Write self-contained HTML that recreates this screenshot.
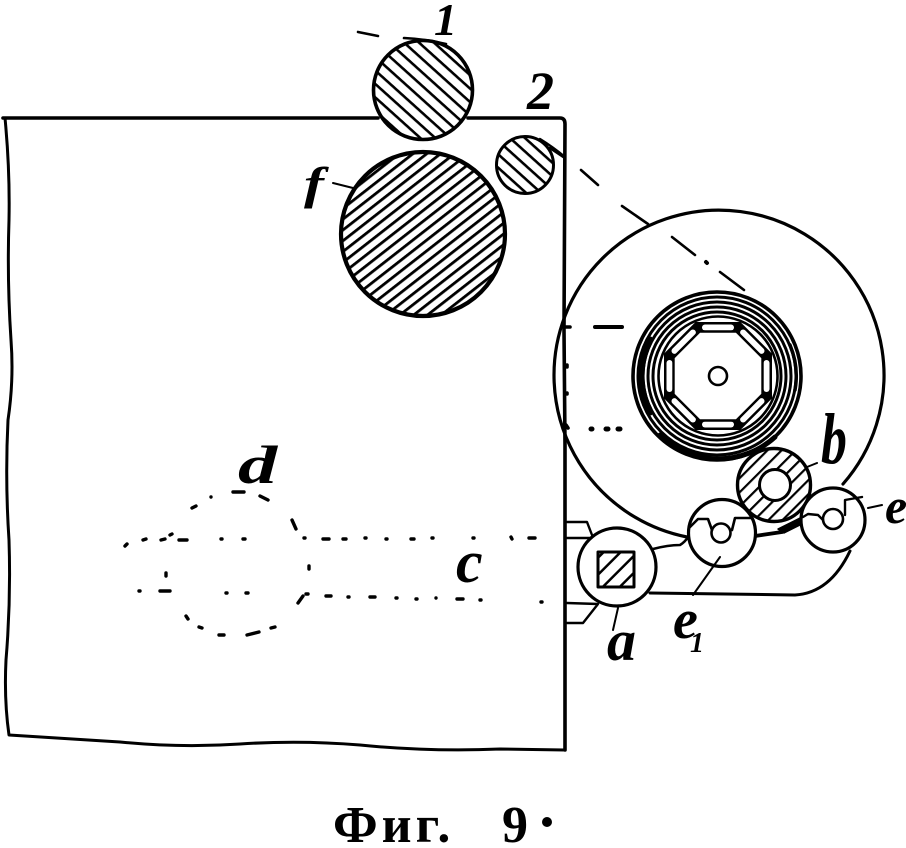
<!DOCTYPE html>
<html><head><meta charset="utf-8"><style>
html,body{margin:0;padding:0;background:#fff;width:906px;height:848px;overflow:hidden}
svg{display:block}
.l{font-family:"Liberation Serif",serif;font-style:italic;font-weight:bold;fill:#000}
</style></head><body>
<svg width="906" height="848" viewBox="0 0 906 848" xmlns="http://www.w3.org/2000/svg">
<defs>
<pattern id="h1" width="10" height="10" patternUnits="userSpaceOnUse" patternTransform="rotate(42)"><rect width="10" height="2.6" fill="#000"/></pattern>
<pattern id="hf" width="8.5" height="8.5" patternUnits="userSpaceOnUse" patternTransform="rotate(-38)"><rect width="8.5" height="2.8" fill="#000"/></pattern>
<pattern id="hb" width="10" height="10" patternUnits="userSpaceOnUse" patternTransform="rotate(-45)"><rect width="10" height="2.2" fill="#000"/></pattern>
<pattern id="ha" width="12" height="12" patternUnits="userSpaceOnUse" patternTransform="rotate(-45)"><rect width="12" height="2.5" fill="#000"/></pattern>
</defs>
<rect width="906" height="848" fill="#fff"/>
<g fill="none" stroke="#000" stroke-linecap="round" stroke-linejoin="round">
<!-- frame -->
<path d="M3 118 L378 118 M468 118 L560 118 Q565 118 565 124 L564 330 L565 445 L565 750" stroke-width="3.6"/>
<path d="M5 118 Q10 170 9 220 Q7 280 11 340 Q14 380 8 420 Q5 480 9 540 Q11 600 6 660 Q4 700 9 735 Q60 738 120 742 Q180 748 240 744 Q300 740 360 745 Q430 752 500 749 L565 750" stroke-width="3"/>
<!-- large reel -->
<path d="M843 484 A165 165 0 1 0 687 537" stroke-width="3.2"/>
<!-- housing -->
<path d="M653 549 Q668 545 680 545 Q685 542 688 537" stroke-width="2.6"/>
<path d="M650 593 L795 595 Q830 593 850 551" stroke-width="3"/>
<path d="M755 536 L782 532 L802 522" stroke-width="3.8"/>
<path d="M778 529 L800 518 L802 524 L784 533 Z" stroke-width="1.5" fill="#000"/>
<path d="M567 522 L587 522 L592 535 M567 538 L592 538 M567 603 L598 604 M567 623 L583 623 L598 604" stroke-width="2.4"/>
<!-- rollers 1, f, 2 -->
<circle cx="423" cy="90" r="49.5" fill="#fff" stroke="none"/>
<circle cx="423" cy="90" r="49.5" fill="url(#h1)" stroke-width="3.6"/>
<circle cx="423" cy="234" r="82" fill="#fff" stroke="none"/>
<circle cx="423" cy="234" r="82" fill="url(#hf)" stroke-width="4.2"/>
<circle cx="525" cy="165" r="28.5" fill="url(#h1)" stroke-width="3"/>
<path d="M540 139 Q553 147 565 157" stroke-width="2.4"/>
<path d="M404 38 Q425 39 446 44" stroke-width="2.6"/>
<!-- spool -->
<circle cx="717" cy="376" r="84" stroke-width="3.6"/>
<circle cx="717" cy="376" r="79" stroke-width="3"/>
<circle cx="717" cy="376" r="74" stroke-width="3"/>
<circle cx="717" cy="376" r="69" stroke-width="3"/>
<circle cx="717" cy="376" r="64" stroke-width="3"/>
<circle cx="718" cy="376" r="59.5" stroke-width="2.6"/>
<path d="M650 340 A77 77 0 0 0 650 412" stroke-width="7"/>
<path d="M790 345 A80 80 0 0 1 795 390" stroke-width="3.5"/>
<path d="M660 435 A84 84 0 0 0 775 437" stroke-width="5"/>
<g transform="translate(718,376)">
<polygon points="54,22.4 22.4,54 -22.4,54 -54,22.4 -54,-22.4 -22.4,-54 22.4,-54 54,-22.4" fill="#000" stroke="none"/>
<g stroke="#fff" stroke-width="6" stroke-linecap="round">
<path d="M48.5 -13 L48.5 13"/><path d="M48.5 -13 L48.5 13" transform="rotate(45)"/><path d="M48.5 -13 L48.5 13" transform="rotate(90)"/><path d="M48.5 -13 L48.5 13" transform="rotate(135)"/><path d="M48.5 -13 L48.5 13" transform="rotate(180)"/><path d="M48.5 -13 L48.5 13" transform="rotate(225)"/><path d="M48.5 -13 L48.5 13" transform="rotate(270)"/><path d="M48.5 -13 L48.5 13" transform="rotate(315)"/>
</g>
<polygon points="44.5,18.4 18.4,44.5 -18.4,44.5 -44.5,18.4 -44.5,-18.4 -18.4,-44.5 18.4,-44.5 44.5,-18.4" fill="#fff" stroke="#000" stroke-width="2.4"/>
</g>
<circle cx="718" cy="376" r="9" stroke-width="2.6"/>
<!-- b -->
<circle cx="774" cy="485" r="36.5" fill="#fff" stroke="none"/>
<circle cx="774" cy="485" r="36.5" fill="url(#hb)" stroke-width="3.4"/>
<circle cx="775" cy="485" r="15.5" fill="#fff" stroke-width="3"/>
<!-- e1 -->
<circle cx="722" cy="533" r="33.5" fill="#fff" stroke-width="3.2"/>
<circle cx="721" cy="533" r="9.5" stroke-width="2.6"/>
<path d="M690 527 L698 519 L708 519 L712 530 M732 530 L735 518 L751 518" stroke-width="2.6"/>
<!-- e -->
<circle cx="833" cy="520" r="32" fill="#fff" stroke-width="3.2"/>
<circle cx="833" cy="519" r="10" stroke-width="2.6"/>
<path d="M803 517 L808 514 L818 515 L823 520 M845 515 L845 500 L862 497" stroke-width="2.4"/>
<!-- a -->
<circle cx="617" cy="567" r="39" fill="#fff" stroke-width="3.2"/>
<rect x="598" y="552" width="36" height="35" fill="url(#ha)" stroke-width="3"/>
<!-- leaders -->
<path d="M333 183 L353 188 M868 508 L882 505 M807 467 L817 463 M720 557 L693 595 M618 608 L613 630" stroke-width="2"/>
<!-- dash-dot line -->
<path d="M358 32 L378 36 M550 148 L565 158 M581 170 L598 185 M622 206 L648 224 M672 237 L695 255 M720 272 L744 290" stroke-width="2.6"/>
<path d="M706 262 L707 263" stroke-width="4"/>
<!-- dashes on reel -->
<path d="M595 327 L622 327" stroke-width="4"/>
<path d="M566 327 L570 327 M567 365 L567 367 M567 393 L567 394 M566 425 L568 428" stroke-width="3.6"/>
<path d="M591 429 L592 429 M606 429 L608 429 M618 429 L620 429" stroke-width="5"/>
<!-- dotted outlines -->
<g stroke-width="3.4">
<path d="M125 546 L127 544 M143 540 L146 539 M161 540 L165 539 M170 535 L172 534 M179 540 L187 540 M221 539 L222 539 M243 539 L245 539"/>
<path d="M166 573 L166 576 M139 591 L140 591 M160 591 L170 591 M226 593 L227 593 M246 593 L248 593"/>
<path d="M192 508 L196 506 M211 497 L211 497 M233 492 L244 492 M260 496 L268 500 M292 520 L296 529"/>
<path d="M304 538 L305 538 M323 539 L329 539 M343 539 L346 539 M365 538 L366 538 M386 539 L387 539 M411 539 L414 539 M432 538 L433 538 M473 538 L474 538 M511 537 L512 539 M529 538 L535 538"/>
<path d="M309 566 L309 569 M298 603 L303 596 M306 594 L308 594 M326 596 L331 596 M348 597 L349 597 M370 597 L375 597 M396 598 L397 598 M416 599 L417 599 M436 598 L436 598 M457 599 L463 599 M480 600 L481 600 M541 602 L542 602"/>
<path d="M186 616 L188 619 M199 627 L202 628 M219 635 L224 635 M247 635 L259 632 M271 628 L275 627"/>
</g>
</g>
<!-- labels -->
<text class="l" x="434" y="35" font-size="46">1</text>
<text class="l" x="527" y="109" font-size="54">2</text>
<text class="l" transform="translate(304,199) scale(1.3,1)" font-size="46">f</text>
<text class="l" transform="translate(238,483) scale(1.45,1)" font-size="54">d</text>
<text class="l" x="456" y="582" font-size="60">c</text>
<text class="l" transform="translate(821,463) scale(.72,1)" font-size="72">b</text>
<text class="l" x="885" y="523" font-size="50">e</text>
<text class="l" x="673" y="638" font-size="56">e</text>
<text class="l" x="690" y="652" font-size="28">1</text>
<text class="l" x="607" y="660" font-size="58">a</text>
<text x="333" y="842" font-family="'Liberation Serif',serif" font-size="52" font-weight="bold" letter-spacing="4" fill="#000">Фиг.</text>
<text x="502" y="842" font-family="'Liberation Serif',serif" font-size="52" font-weight="bold" fill="#000">9</text>
<circle cx="547" cy="822" r="5" fill="#000"/>
</svg>
</body></html>
